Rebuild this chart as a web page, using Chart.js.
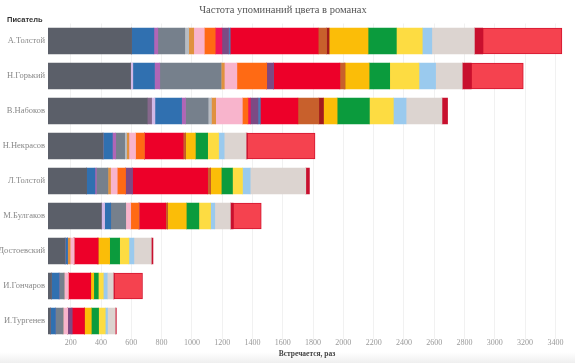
<!DOCTYPE html>
<html>
<head>
<meta charset="utf-8">
<script src="https://cdn.jsdelivr.net/npm/chart.js@4/dist/chart.umd.min.js"></script>
<style>
  html, body { margin: 0; padding: 0; }
  body {
    width: 575px; height: 363px; overflow: hidden;
    background: linear-gradient(to bottom, #ffffff 0px, #ffffff 352px, #efefef 363px);
  }
  #wrap { position: relative; width: 575px; height: 363px; }
  #yTitle {
    position: absolute; left: 7px; top: 15px;
    font: bold 7.5px 'Liberation Sans', sans-serif; color: #333;
  }
</style>
</head>
<body>
<div id="wrap">
  <canvas id="colorChart" width="575" height="363"></canvas>
  <div id="yTitle">Писатель</div>
</div>
<script>
// ---------- данные ----------
const writers = ['А.Толстой', 'Н.Горький', 'В.Набоков', 'Н.Некрасов', 'Л.Толстой',
                 'М.Булгаков', 'Ф. Достоевский', 'И.Гончаров', 'И.Тургенев'];

const tickValues = [200, 400, 600, 800, 1000, 1200, 1400, 1600, 1800,
                    2000, 2200, 2400, 2600, 2800, 3000, 3200, 3400];

// по одному массиву на цвет, порядок писателей как в writers
const black      = [602, 595, 705, 413, 305, 402, 163, 73, 66];
const mauve      = [0, 0, 29, 0, 0, 0, 0, 0, 0];
const lilac      = [0, 15, 22, 0, 0, 22, 0, 0, 0];
const blue       = [147, 143, 176, 62, 55, 40, 16, 50, 33];
const magenta    = [26, 35, 26, 22, 9, 0, 0, 0, 0];
const gray       = [178, 404, 149, 59, 76, 99, 0, 33, 50];
const silver     = [26, 0, 22, 13, 0, 0, 0, 0, 0];
const tan        = [33, 22, 28, 15, 18, 0, 17, 0, 0];
const pink       = [70, 83, 176, 44, 44, 33, 26, 28, 31];
const orange     = [72, 197, 37, 59, 55, 55, 0, 0, 0];
const raspberry  = [44, 0, 16, 0, 0, 0, 0, 0, 0];
const purple     = [44, 44, 50, 0, 44, 0, 0, 0, 28];
const steel      = [11, 0, 16, 0, 0, 0, 0, 0, 0];
const red        = [581, 439, 248, 255, 498, 176, 158, 148, 82];
const brown      = [55, 33, 138, 15, 18, 11, 0, 0, 0];
const darkRed    = [17, 0, 31, 0, 0, 0, 0, 0, 0];
const amber      = [257, 160, 90, 66, 72, 125, 77, 20, 46];
const green      = [187, 136, 213, 81, 74, 83, 66, 30, 48];
const yellow     = [171, 193, 158, 72, 66, 77, 61, 33, 44];
const lightBlue  = [63, 110, 84, 37, 51, 28, 33, 26, 15];
const beige      = [281, 176, 237, 145, 367, 103, 115, 40, 51];
const crimson    = [55, 59, 37, 7, 24, 18, 11, 5, 7];
const scarlet    = [523, 344, 0, 448, 0, 186, 0, 188, 0];

// серии: подпись, данные, цвет
const series = [
  ['чёрный', black, '#5b5f69'],
  ['лиловый', mauve, '#86688c'],
  ['сиреневый', lilac, '#d2b8e6'],
  ['синий', blue, '#3070b0'],
  ['фиолетовый', magenta, '#b066b6'],
  ['серый', gray, '#76808c'],
  ['серебряный', silver, '#b8bcc2'],
  ['рыжий', tan, '#e0913e'],
  ['розовый', pink, '#f8b4cc'],
  ['оранжевый', orange, '#ff6a14'],
  ['малиновый', raspberry, '#ef145a'],
  ['пурпурный', purple, '#7c4a84'],
  ['стальной', steel, '#4a7cb4'],
  ['красный', red, '#ed0029'],
  ['коричневый', brown, '#c8602c'],
  ['бордовый', darkRed, '#a21a1c'],
  ['золотой', amber, '#fbbd08'],
  ['зелёный', green, '#0b9b3d'],
  ['жёлтый', yellow, '#fddc42'],
  ['голубой', lightBlue, '#9acaee'],
  ['бежевый', beige, '#dcd4d0'],
  ['багровый', crimson, '#c8102e'],
  ['алый', scarlet, '#f5424f']
];

const datasets = series.map(([label, data, color]) => ({
  label: label,
  data: data,
  backgroundColor: color,
  borderColor: label === 'алый' ? '#d3162f' : color,
  borderWidth: label === 'алый' ? 1 : 0,
  borderSkipped: false,
  barThickness: 26
}));

const serif = 'Liberation Serif';

new Chart(document.getElementById('colorChart'), {
  type: 'bar',
  data: { labels: writers, datasets: datasets },
  options: {
    indexAxis: 'y',
    responsive: false,
    animation: false,
    layout: { padding: { left: 0, right: 9, top: 0, bottom: 0 } },
    plugins: {
      legend: { display: false },
      tooltip: { enabled: false },
      title: {
        display: true,
        text: 'Частота упоминаний цвета в романах',
        color: '#555',
        font: { family: serif, size: 10.5, weight: 'normal', lineHeight: 1 },
        padding: { top: 5, bottom: 8 }
      }
    },
    scales: {
      x: {
        stacked: true,
        min: 50,
        max: 3470,
        afterBuildTicks: (scale) => {
          scale.ticks = tickValues.map(v => ({ value: v }));
        },
        afterFit: (scale) => { scale.height = 24.5; },
        grid: { display: true, color: '#f1f1f1', drawTicks: false },
        border: { display: false },
        ticks: {
          color: '#999',
          padding: 0,
          maxRotation: 0,
          autoSkip: false,
          font: { family: serif, size: 8 },
          callback: (v) => String(v)
        },
        title: {
          display: true,
          text: 'Встречается, раз',
          color: '#444',
          font: { family: serif, size: 7.5, weight: 'bold', lineHeight: 1.2 },
          padding: { top: 0, bottom: 4 }
        }
      },
      y: {
        stacked: true,
        afterFit: (scale) => { scale.width = 48; },
        grid: { display: false, drawTicks: false },
        border: { display: false },
        ticks: {
          color: '#888',
          padding: 3,
          autoSkip: false,
          font: { family: serif, size: 8.5 }
        }
      }
    }
  }
});
</script>
</body>
</html>
